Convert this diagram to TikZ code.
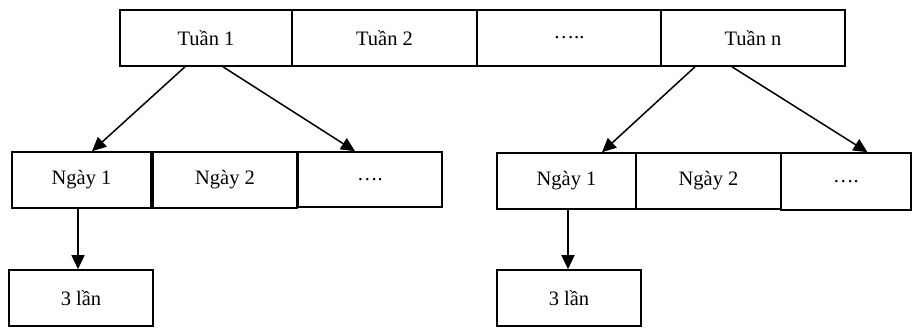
\documentclass[tikz,border=0pt]{standalone}
\usepackage{fontspec}
\setmainfont{Liberation Serif}
\usetikzlibrary{arrows.meta}
\tikzset{
  box/.style={draw=black, line width=1.6pt, inner sep=0pt, minimum height=56pt,
    font=\fontsize{20.5}{24}\selectfont},
  arr/.style={line width=1.5pt, -{Triangle[length=14pt,width=13pt]}},
}
\begin{document}
\begin{tikzpicture}[x=1pt,y=-1pt]
\useasboundingbox (0,0) rectangle (912,327);
% top row
\node[box, minimum width=172pt] (t1) at (206,38) {Tuần 1};
\node[box, minimum width=185pt] (t2) at (384.5,38) {Tuần 2};
\node[box, minimum width=184pt] (t3) at (569,38) {…..};
\node[box, minimum width=184pt] (tn) at (753,38) {Tuần n};
% left group
\node[box, minimum width=139pt] (a1) at (81.5,180) {Ngày 1};
\node[box, minimum width=144pt] (a2) at (225,180) {Ngày 2};
\node[box, minimum width=144pt, minimum height=55pt] (a3) at (370,179.5) {….};
\node[box, minimum width=144pt] (c1) at (81,298) {3 lần};
% right group
\node[box, minimum width=139pt] (b1) at (566.5,181) {Ngày 1};
\node[box, minimum width=145pt] (b2) at (708.5,181) {Ngày 2};
\node[box, minimum width=130pt, minimum height=57pt] (b3) at (846,181.5) {….};
\node[box, minimum width=144pt] (c2) at (569,298) {3 lần};
% arrows
\draw[arr] ([xshift=-21pt]t1.south) -- ([xshift=10.5pt]a1.north);
\draw[arr] ([xshift=17pt]t1.south) -- ([xshift=-15pt]a3.north);
\draw[arr] ([xshift=-58pt]tn.south) -- ([xshift=35.5pt]b1.north);
\draw[arr] ([xshift=-21pt]tn.south) -- ([xshift=21.5pt]b3.north);
\draw[arr] ([xshift=-3.5pt]a1.south) -- ([xshift=-3pt]c1.north);
\draw[arr] ([xshift=1.5pt]b1.south) -- ([xshift=-1pt]c2.north);
\end{tikzpicture}
\end{document}
